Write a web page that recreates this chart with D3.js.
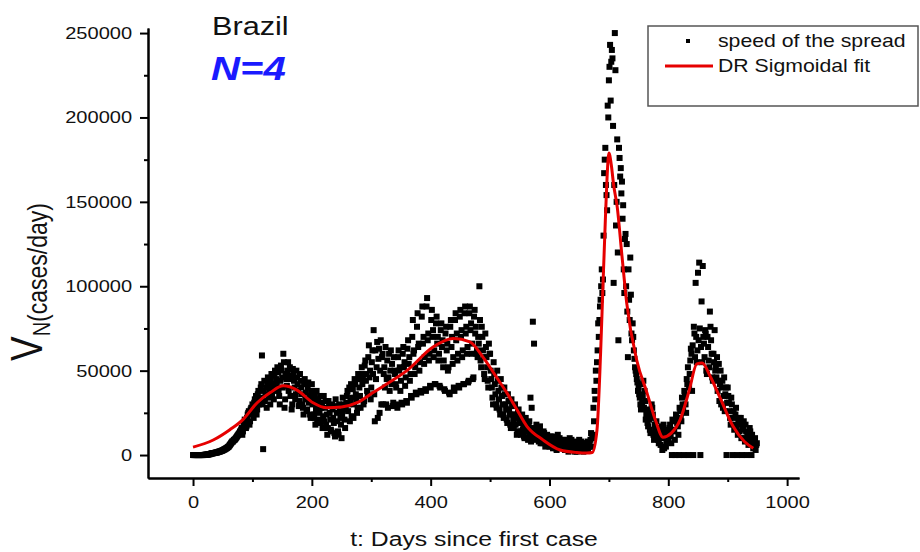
<!DOCTYPE html>
<meta charset="utf-8">
<style>
body { margin: 0; background: #fff; }
text { font-family: "Liberation Sans", Arial, sans-serif; fill: #111; }
.axis path, .axis line { stroke: #000; stroke-width: 2px; }
.fit { fill: none; stroke: #e60000; stroke-width: 3px; }
</style>
<body>
<script src="https://d3js.org/d3.v7.min.js"></script>
<script>

// daily speed of the spread (thousands of cases/day), split into even and odd days
var evenDays = d3.range(0, 950, 2);
var evenCases = [
  0,0,0,0,0,0,0,0,0,0,
  0.1,0.2,0.3,0.4,0.5,0.8,1.0,1.1,1.2,1.4,
  1.5,1.8,2.0,2.2,2.5,2.8,3.2,3.5,4.0,4.5,
  5,6,7,8,8.5,9,10,11,12,13,
  13,16,14,19,20,17,24,26,20,28,
  30,22,33,35,27,38,32,40,59,3.5,
  44,36,28,46,40,30,48,42,33,50,
  45,52,38,30,53,46,60,28,48,41,
  55,47,35,27,51,44,33,50,42,29,
  48,40,30,24,45,37,27,43,35,22,
  42,33,24,18,38,30,21,35,28,16,
  35,28,18,12,32,25,15,30,22,13,
  33,25,14,30,22,10,34,27,16,31,
  38,30,20,42,34,22,45,36,25,48,
  40,28,52,45,32,56,48,36,65,50,
  40,62,74,20,45,67,57,25,68,58,
  30,52,64,45,28,60,50,42,29,58,
  48,40,28,62,52,44,30,64,55,46,
  31,68,58,48,34,80,62,52,36,84,
  66,55,37,88,70,58,38,93,72,60,
  40,86,74,62,42,82,70,60,40,78,
  68,56,38,76,66,52,36,80,70,58,
  38,84,72,60,40,86,74,62,42,88,
  76,64,44,88,78,66,46,86,76,62,
  70,100,56,76,62,48,72,58,44,66,
  60,45,34,55,42,30,50,38,27,45,
  35,24,40,30,21,36,27,18,33,24,
  16,30,22,14,27,19,12,24,17,10,
  22,15,9,20,34,28,79,66,11,18,
  12,8,17,10,7,14,9,6,12,8,
  5,11,8,4,10,7,3,12,6,9,
  4,8,5,3,9,6,2,10,5,7,
  3,6,8,2,5,9,4,3,7,4,
  5,3,8,5,5,13,10,28,38,50,
  55,78,80,92,110,104,167,182,154,207,
  222,243,233,235,102,250,136,187,68,176,
  170,162,148,96,131,125,58,92,117,72,
  78,62,52,48,43,40,34,27,31,44,
  38,21,27,17,21,13,30,24,9,15,
  20,12,7,15,10,3,18,12,5,14,
  9,16,11,0,20,14,0,22,17,0,
  26,20,30,0,35,25,42,0,48,63,
  38,0,72,102,55,108,114,0,91,112,
  66,74,50,70,56,85,68,46,60,74,
  52,58,44,32,50,40,28,46,36,0,
  40,31,22,34,0,26,18,28,0,20,
  14,22,0,16,10,18,0,12,8,14,
  0,9,5,10,6
];
var oddDays = d3.range(1, 950, 2);
var oddCases = [
  0,0,0,0,0,0,0,0,0,0.1,
  0.2,0.2,0.3,0.5,0.6,0.9,1.0,1.2,1.3,1.5,
  1.6,1.9,2.1,2.4,2.6,3.0,3.4,3.8,4.2,4.8,
  5.5,6.5,7.5,8,9,9.5,10.5,11.5,12.5,14,
  15,12,18,21,16,22,25,18,27,24,
  26,31,29,24,36,30,34,42,30,38,
  32,40,43,34,38,45,36,40,47,38,
  42,49,35,44,50,40,55,33,45,50,
  38,52,45,30,48,40,36,46,38,32,
  44,36,28,42,33,26,40,31,24,38,
  30,22,36,27,20,33,25,19,31,23,
  20,32,24,16,29,21,14,27,19,11,
  29,20,12,26,18,24,30,21,28,35,
  26,40,32,23,39,30,42,33,28,45,
  35,48,42,30,53,44,38,58,46,33,
  55,48,36,62,52,22,63,50,30,60,
  48,40,30,56,46,38,62,54,31,50,
  42,30,58,50,38,31,60,52,41,32,
  63,54,44,35,70,60,48,37,76,64,
  50,38,82,66,54,39,88,68,56,41,
  80,70,58,42,78,66,56,41,74,64,
  52,39,72,62,50,37,76,64,54,40,
  80,68,56,41,82,70,58,42,84,72,
  60,43,84,74,60,45,82,72,60,58,
  66,80,52,70,58,45,64,52,40,60,
  50,40,30,48,36,28,44,33,24,40,
  30,22,36,27,19,32,24,16,29,21,
  24,18,12,25,20,14,22,15,11,19,
  14,10,18,12,8,16,11,9,15,10,
  10,14,7,11,8,13,5,10,7,11,
  8,5,9,6,11,4,8,6,10,5,
  6,9,4,7,3,8,6,4,9,5,
  5,2,7,4,6,3,8,5,2,6,
  4,7,3,6,9,5,12,20,33,44,
  62,70,88,100,96,130,175,160,145,200,
  230,210,240,195,160,228,150,120,182,165,
  155,140,110,128,100,85,110,80,95,68,
  70,57,50,45,38,36,30,42,35,28,
  32,24,19,25,15,22,28,12,18,10,
  16,9,13,6,17,11,4,15,8,12,
  13,18,7,21,15,9,24,19,12,28,
  22,34,27,38,30,45,52,40,56,60,
  65,76,58,70,62,68,75,64,55,70,
  58,72,48,64,52,76,60,44,55,50,
  46,38,54,42,30,44,35,26,40,31,
  35,26,18,30,22,15,24,17,12,22,
  18,10,15,20,8,14,11,6,16,9,
  12,4,8,3,7
];

// DR sigmoidal fit (thousands of cases/day)
var fitDays  = [0,34,62,84,108,130,152,175,202,225,250,276,303,330,360,404,438,466,488,511,528,545,562,589,618,646,663,672,680,686,690,694,697,700,704,708,714,722,730,747,764,779,791,805,820,835,848,857,870,887,909,928,943];
var fitCases = [4.7,8.9,15,21,31,37,41,38.5,31,28,28.4,31,37,43,50,64,69,67,58,46,37,27,17,9,3,1.5,1.2,1.5,15,60,100,139,165,179,172,160,147,118,90,56,37,20,10.6,13,21,38,54,54.5,47,34,17,8,4];

var xTicks = [0, 200, 400, 600, 800, 1000];
var xMinor = [100, 300, 500, 700, 900];
var yTicks = [0, 50000, 100000, 150000, 200000, 250000];
var yMinor = [25000, 75000, 125000, 175000, 225000];

var legendItems = ["speed of the spread", "DR Sigmoidal fit"];

var W = 920, H = 552;
var stretch = 1.18;   // the glyphs in the picture are a bit wide

var svg = d3.select("body").append("svg")
    .attr("width", W)
    .attr("height", H);

var x = d3.scaleLinear().domain([-75.8, 1020]).range([148, 799]);
var y = d3.scaleLinear().domain([-13600, 253000]).range([478, 28]);

// minor ticks first, then the labelled ones
svg.append("g")
    .attr("class", "axis")
    .attr("transform", "translate(0,478)")
    .call(d3.axisBottom(x).tickValues(xMinor).tickSize(4).tickSizeOuter(0).tickFormat(""));
svg.append("g")
    .attr("class", "axis")
    .attr("transform", "translate(148,0)")
    .call(d3.axisLeft(y).tickValues(yMinor).tickSize(4).tickSizeOuter(0).tickFormat(""));

svg.append("g")
    .attr("class", "axis")
    .attr("transform", "translate(0,478)")
    .call(d3.axisBottom(x).tickValues(xTicks).tickSize(8).tickSizeOuter(0).tickPadding(10).tickFormat(d3.format("d")));
svg.append("g")
    .attr("class", "axis")
    .attr("transform", "translate(148,0)")
    .call(d3.axisLeft(y).tickValues(yTicks).tickSize(8).tickSizeOuter(0).tickPadding(5.5).tickFormat(d3.format("d")));

svg.selectAll(".axis text")
    .style("font-size", "17px")
    .attr("fill", "#111")
    .attr("transform", "scale(" + stretch + ",1)");

// scatter of the daily values
var points = evenDays.map(function(d, i) { return {day: d, v: evenCases[i] * 1000}; })
    .concat(oddDays.map(function(d, i) { return {day: d, v: oddCases[i] * 1000}; }));
var sq = 6;
svg.append("g").selectAll("rect")
    .data(points)
    .join("rect")
    .attr("x", function(d) { return x(d.day) - sq / 2; })
    .attr("y", function(d) { return y(d.v) - sq / 2; })
    .attr("width", sq)
    .attr("height", sq)
    .attr("fill", "#000");

// fitted curve
var fitLine = d3.line()
    .x(function(d, i) { return x(fitDays[i]); })
    .y(function(d) { return y(d * 1000); })
    .curve(d3.curveMonotoneX);
svg.append("path")
    .datum(fitCases)
    .attr("class", "fit")
    .attr("d", fitLine);

// titles in the corner
svg.append("text")
    .attr("transform", "translate(212,35) scale(" + stretch + ",1)")
    .style("font-size", "26px")
    .text("Brazil");
svg.append("text")
    .attr("transform", "translate(211,80) scale(" + stretch + ",1)")
    .style("font-size", "34px")
    .style("font-weight", "bold")
    .style("font-style", "italic")
    .style("fill", "#1a1aff")
    .text("N=4");

// axis titles
svg.append("text")
    .attr("transform", "translate(474,546) scale(" + stretch + ",1)")
    .attr("text-anchor", "middle")
    .style("font-size", "21px")
    .text("t: Days since first case");

var yl = svg.append("text")
    .attr("transform", "translate(42,361) scale(" + stretch + ",1) rotate(-90)");
yl.append("tspan").style("font-size", "37px").text("V");
yl.append("tspan").style("font-size", "20px").attr("dy", 6.8).text("N");
yl.append("tspan").style("font-size", "23px").attr("dy", -2.5).text("(cases/day)");

// legend
var lg = svg.append("g");
lg.append("rect")
    .attr("x", 648).attr("y", 26)
    .attr("width", 270).attr("height", 80)
    .attr("fill", "#fff")
    .attr("stroke", "#555")
    .attr("stroke-width", 1.5);
lg.append("rect")
    .attr("x", 686).attr("y", 39)
    .attr("width", 4).attr("height", 4)
    .attr("fill", "#000");
lg.append("line")
    .attr("x1", 665).attr("x2", 713)
    .attr("y1", 66).attr("y2", 66)
    .attr("stroke", "#e60000")
    .attr("stroke-width", 3);
lg.selectAll("text.leg")
    .data(legendItems)
    .join("text")
    .attr("class", "leg")
    .attr("transform", function(d, i) { return "translate(718," + (47 + i * 25) + ") scale(" + stretch + ",1)"; })
    .style("font-size", "18px")
    .text(function(d) { return d; });

</script>
</body>
